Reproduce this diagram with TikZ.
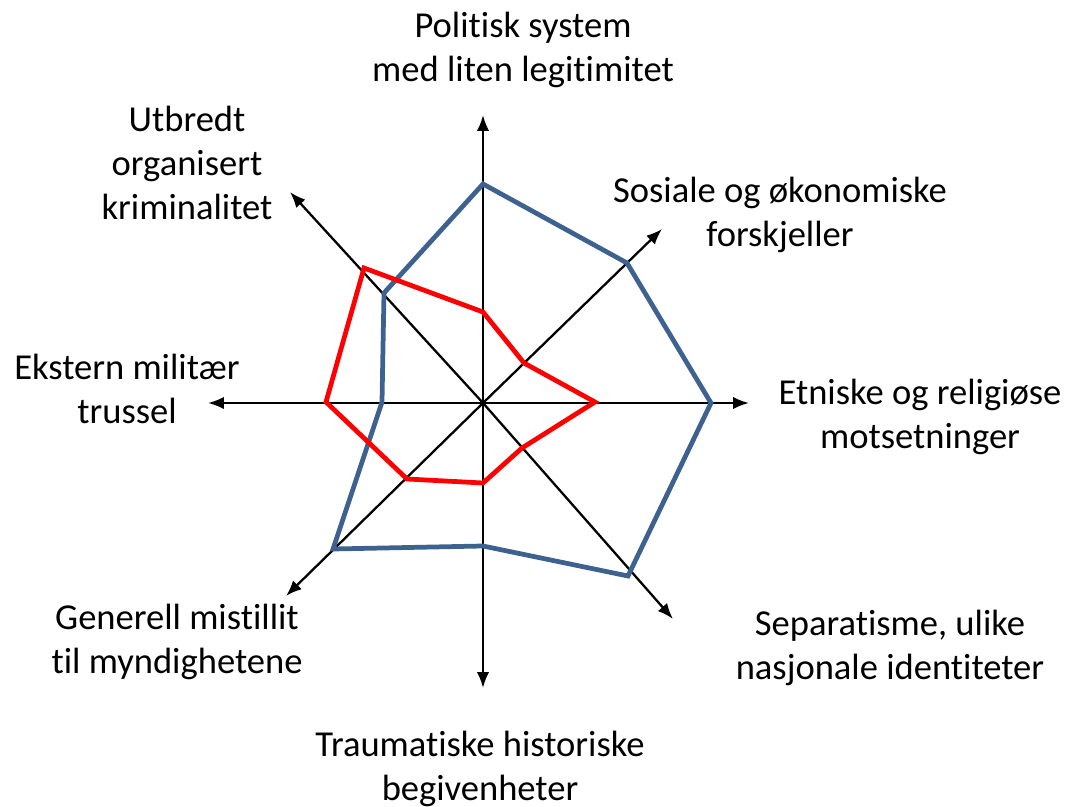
\documentclass[tikz,border=0pt]{standalone}
\usepackage{fontspec}
\setmainfont{Carlito}[Ligatures={NoCommon,NoDiscretionary}]
\usetikzlibrary{arrows.meta}

\definecolor{seriesblue}{RGB}{61,98,143}

\tikzset{
  axis/.style={line width=1.3pt, -{Latex[length=9pt,width=7pt]}},
  series/.style={line width=2.7pt, line join=miter},
  label/.style={align=center, font=\fontsize{20.8}{25}\selectfont, inner sep=0pt}
}

\begin{document}
\begin{tikzpicture}[x=0.02cm,y=-0.02cm]
\useasboundingbox (0,0) rectangle (1068,807);

% centre and axis ends
\coordinate (o) at (483,403);
\coordinate (up) at (483,115);
\coordinate (upright) at (662,229);
\coordinate (right) at (749,403);
\coordinate (downright) at (673,619);
\coordinate (down) at (483,688);
\coordinate (downleft) at (286,596);
\coordinate (left) at (208,403);
\coordinate (upleft) at (290,192);

\foreach \e in {up,upright,right,downright,down,downleft,left,upleft}
  \draw[axis] (o) -- (\e);

% the two series
\draw[series, seriesblue] (483,184) -- (627,263) -- (711,403) -- (628,576)
  -- (483,546) -- (333,549) -- (382,402) -- (384,293) -- cycle;
\draw[series, red] (483,312) -- (524,363) -- (595,402) -- (522,448)
  -- (483,483) -- (407,479) -- (326,402) -- (364,268) -- cycle;

% axis labels
\node[label] (pol) at (523,50) {Politisk system\\med liten legitimitet};
\node[label] (sos) at (780,215) {Sosiale og økonomiske\\forskjeller};
\node[label] (etn) at (920,417) {Etniske og religiøse\\motsetninger};
\node[label] (sep) at (890,648) {Separatisme, ulike\\nasjonale identiteter};
\node[label] (tra) at (480,769) {Traumatiske historiske\\begivenheter};
\node[label] (gen) at (177,642) {Generell mistillit\\til myndighetene};
\node[label] (eks) at (127,389) {Ekstern militær\\trussel};
\node[label] (krim) at (187,163) {Utbredt\\organisert\\kriminalitet};
\end{tikzpicture}
\end{document}
